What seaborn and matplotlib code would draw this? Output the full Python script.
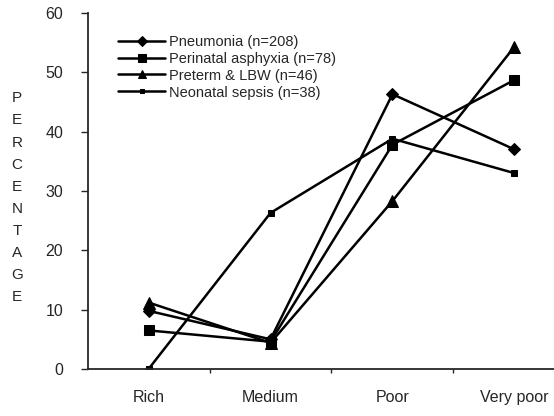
import matplotlib
matplotlib.use("Agg")
import matplotlib.pyplot as plt
import seaborn as sns
import pandas as pd

categories = ["Rich", "Medium", "Poor", "Very poor"]
series_names = [
    "Pneumonia (n=208)",
    "Perinatal asphyxia (n=78)",
    "Preterm & LBW (n=46)",
    "Neonatal sepsis (n=38)",
]
pneumonia = [9.8, 5.0, 46.3, 37.0]
asphyxia = [6.5, 4.6, 37.8, 48.7]
preterm = [11.2, 4.4, 28.3, 54.3]
sepsis = [0.0, 26.3, 38.8, 33.0]
y_ticks = [0, 10, 20, 30, 40, 50, 60]

rows = []
for name, vals in zip(series_names, [pneumonia, asphyxia, preterm, sepsis]):
    for i, v in enumerate(vals):
        rows.append({"pos": i, "value": v, "series": name})
df = pd.DataFrame(rows)

sns.set_style("ticks")
plt.rcParams["font.family"] = ["Liberation Sans", "DejaVu Sans"]

fig = plt.figure(figsize=(5.54, 4.16), dpi=100)
ax = fig.add_axes([0.159, 0.113, 0.851, 0.856])

markers = {series_names[0]: "D", series_names[1]: "s",
           series_names[2]: "^", series_names[3]: "s"}
palette = {n: "black" for n in series_names}

sns.lineplot(data=df, x="pos", y="value", hue="series", style="series",
             markers=markers, dashes=False, palette=palette,
             linewidth=1.8, markeredgecolor="black", ax=ax, legend=True)

sizes = [6, 7.5, 8, 4]
for line, ms in zip(ax.lines[:4], sizes):
    line.set_markersize(ms)

ax.set_xlim(-0.496, 3.37)
ax.set_ylim(0, 60)
ax.set_yticks(y_ticks)
ax.set_xticks(range(len(categories)))
ax.set_xticklabels(categories)
ax.set_xticks([0.5, 1.5, 2.5], minor=True)
ax.tick_params(axis="x", which="major", length=0, labelsize=11.5, pad=15)
ax.tick_params(axis="x", which="minor", length=3, width=1)
ax.tick_params(axis="y", length=5, width=1, labelsize=11.5, pad=13)
ax.spines["top"].set_visible(False)
ax.spines["right"].set_visible(False)
ax.spines["left"].set_linewidth(1.3)
ax.spines["bottom"].set_linewidth(1.3)
ax.set_xlabel("")
ax.set_ylabel("")

fig.text(0.031, 0.525, "\n".join("PERCENTAGE"), ha="center", va="center",
         fontsize=11, linespacing=1.73)

handles, labels = ax.get_legend_handles_labels()
for h, ms in zip(handles, sizes):
    h.set_markersize(ms * 0.8)
leg = ax.legend(handles, labels, loc="upper left",
                bbox_to_anchor=(0.052, 0.955), frameon=False,
                fontsize=10.5, handlelength=3.2, handletextpad=0.3,
                labelspacing=0.2, borderaxespad=0)

fig.savefig("out.png", dpi=100)
